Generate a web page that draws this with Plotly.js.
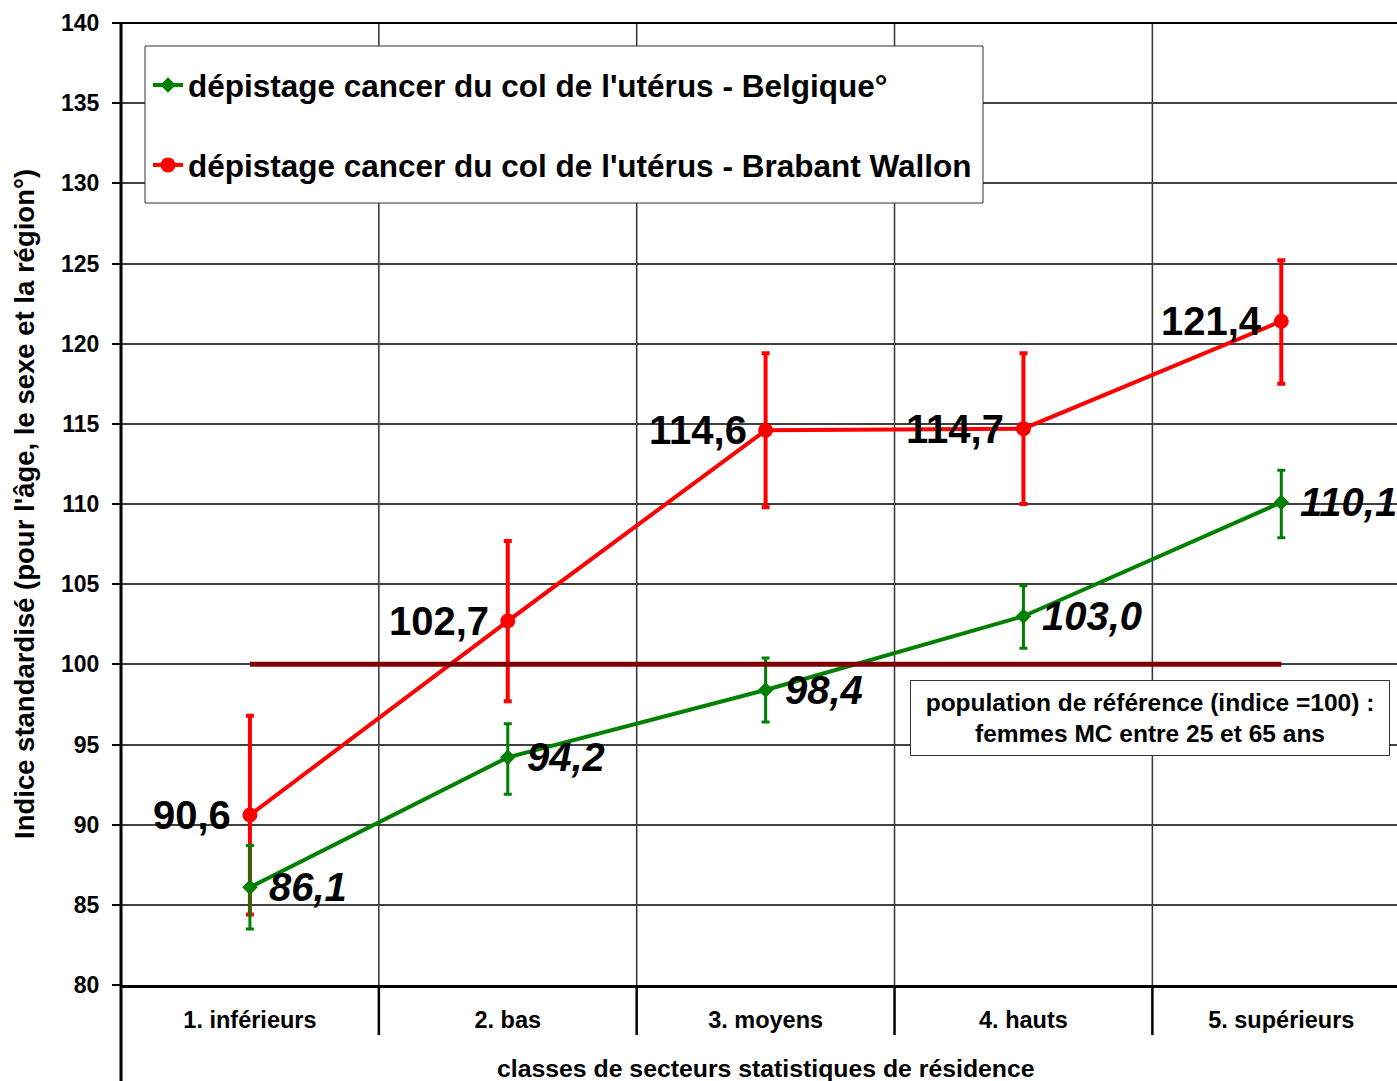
<!DOCTYPE html>
<html>
<head>
<meta charset="utf-8">
<script src="https://cdn.plot.ly/plotly-3.0.1.min.js"></script>
<style>html,body{margin:0;padding:0;background:#fff;}#chart{width:1397px;height:1081px;}</style>
</head>
<body>
<div id="chart"></div>
<script>
const categories = ['1. inférieurs', '2. bas', '3. moyens', '4. hauts', '5. supérieurs'];
const belgique = [86.1, 94.2, 98.4, 103.0, 110.1];
const belgiqueLow = [83.5, 91.9, 96.4, 101.0, 107.9];
const belgiqueHigh = [88.7, 96.3, 100.4, 104.9, 112.1];
const brabant = [90.6, 102.7, 114.6, 114.7, 121.4];
const brabantLow = [84.4, 97.7, 109.8, 110.0, 117.5];
const brabantHigh = [96.8, 107.7, 119.4, 119.4, 125.2];
const yTicks = [80, 85, 90, 95, 100, 105, 110, 115, 120, 125, 130, 135, 140];
const refValue = 100;
const nameBelgique = "dépistage cancer du col de l'utérus - Belgique°";
const nameBrabant = "dépistage cancer du col de l'utérus - Brabant Wallon";
const yTitle = "Indice standardisé (pour l'âge, le sexe et la région°)";
const xTitle = "classes de secteurs statistiques de résidence";
const refNote = "population de référence (indice =100) :<br>femmes MC entre 25 et 65 ans";

const ARIAL = "'Liberation Sans', Arial, sans-serif";

const W = 1397, H = 1081, L = 121, T = 23, PW = 1276, PH = 962;
const px = x => (x - L) / PW;
const py = y => 1 - (y - T) / PH;

const xs = categories.map((c, i) => i);
const fmt = v => v.toFixed(1).replace('.', ',');

const traces = [
  {
    x: xs, y: brabant, name: nameBrabant, type: 'scatter', mode: 'lines+markers',
    legendgroup: 'b', legendrank: 2, line: {color: '#ff0000', width: 4},
    marker: {color: '#ff0000', size: 15, symbol: 'circle'},
    error_y: {type: 'data', symmetric: false,
      array: brabantHigh.map((h, i) => h - brabant[i]),
      arrayminus: brabantLow.map((l, i) => brabant[i] - l),
      color: '#ff0000', thickness: 4, width: 4}
  },
  {
    x: xs, y: belgique, name: nameBelgique, type: 'scatter', mode: 'lines+markers',
    legendgroup: 'a', legendrank: 1, line: {color: '#008000', width: 4},
    marker: {color: '#008000', size: 12, symbol: 'diamond'},
    error_y: {type: 'data', symmetric: false,
      array: belgiqueHigh.map((h, i) => h - belgique[i]),
      arrayminus: belgiqueLow.map((l, i) => belgique[i] - l),
      color: '#008000', thickness: 3, width: 4}
  },
  {
    x: [xs[0], xs[xs.length - 1]], y: [refValue, refValue], type: 'scatter', mode: 'lines',
    showlegend: false, hoverinfo: 'skip', line: {color: '#800000', width: 5}
  }
];

const annotations = [];
brabant.forEach((v, i) => annotations.push({
  x: xs[i], y: v, xref: 'x', yref: 'y', text: fmt(v), showarrow: false,
  xanchor: 'right', yanchor: 'middle', xshift: -17, yshift: 0,
  font: {family: ARIAL, size: 40, color: '#000', weight: 'bold'}
}));
belgique.forEach((v, i) => annotations.push({
  x: xs[i], y: v, xref: 'x', yref: 'y', text: fmt(v), showarrow: false,
  xanchor: 'left', yanchor: 'middle', xshift: 17, yshift: 0,
  font: {family: ARIAL, size: 40, color: '#000', weight: 'bold', style: 'italic'}
}));
annotations.push({
  x: px(1150), xref: 'paper', y: py(718), yref: 'paper',
  text: refNote, showarrow: false, xanchor: 'center', yanchor: 'middle',
  width: 474, height: 70, bgcolor: '#fff', bordercolor: '#333', borderwidth: 1, borderpad: 2,
  align: 'center', font: {family: ARIAL, size: 24.5, color: '#000', weight: 'bold'}
});
annotations.push({
  x: px(24), xref: 'paper', y: 0.5, yref: 'paper', text: yTitle, showarrow: false,
  textangle: -90, xanchor: 'center', yanchor: 'middle',
  font: {family: ARIAL, size: 27.5, color: '#000', weight: 'bold'}
});
annotations.push({
  x: 2, xref: 'x', y: py(1068), yref: 'paper', text: xTitle, showarrow: false,
  xanchor: 'center', yanchor: 'middle',
  font: {family: ARIAL, size: 24.8, color: '#000', weight: 'bold'}
});

const shapes = [];
for (let i = 0; i < xs.length - 1; i++) {
  const b = xs[i] + 0.5;
  shapes.push({type: 'line', xref: 'x', yref: 'paper', x0: b, x1: b, y0: 0, y1: 1,
    line: {color: '#333', width: 1.5}, layer: 'below'});
  shapes.push({type: 'line', xref: 'x', yref: 'paper', x0: b, x1: b, y0: -50 / PH, y1: 0,
    line: {color: '#000', width: 2.5}, layer: 'above'});
}
shapes.push({type: 'line', xref: 'paper', yref: 'paper', x0: 0, x1: 0, y0: -100 / PH, y1: 1,
  line: {color: '#000', width: 3}, layer: 'above'});
shapes.push({type: 'line', xref: 'paper', yref: 'paper', x0: -8 / PW, x1: 1, y0: 1, y1: 1,
  line: {color: '#000', width: 2}, layer: 'above'});
// legend frame
shapes.push({type: 'rect', xref: 'paper', yref: 'paper', x0: px(145), x1: px(983), y0: py(203), y1: py(46),
  fillcolor: '#fff', line: {color: '#333', width: 1}, layer: 'above'});

const layout = {
  width: W, height: H,
  margin: {l: L, r: 0, t: T, b: 96},
  paper_bgcolor: '#fff', plot_bgcolor: '#fff',
  showlegend: true,
  legend: {
    x: px(148), y: py(58), xanchor: 'left', yanchor: 'top',
    bgcolor: 'rgba(0,0,0,0)', borderwidth: 0,
    traceorder: 'grouped', tracegroupgap: 36,
    font: {family: ARIAL, size: 31.5, color: '#000', weight: 'bold'}
  },
  xaxis: {
    range: [-0.5, (W - 251) / 257.6], tickvals: xs, ticktext: categories,
    showgrid: false, zeroline: false, showline: true, linecolor: '#000', linewidth: 3,
    ticks: '', ticklabelstandoff: 12,
    tickfont: {family: ARIAL, size: 23.5, color: '#000', weight: 'bold'}
  },
  yaxis: {
    range: [80, 140], tickvals: yTicks, showgrid: true, gridcolor: '#404040', gridwidth: 2,
    zeroline: false, showline: false, ticks: 'outside', ticklen: 8, tickwidth: 2, tickcolor: '#000',
    ticklabelstandoff: 8,
    tickfont: {family: ARIAL, size: 23, color: '#000', weight: 'bold'}
  },
  annotations: annotations,
  shapes: shapes
};

Plotly.newPlot('chart', traces, layout, {displayModeBar: false, staticPlot: true});
</script>
</body>
</html>
